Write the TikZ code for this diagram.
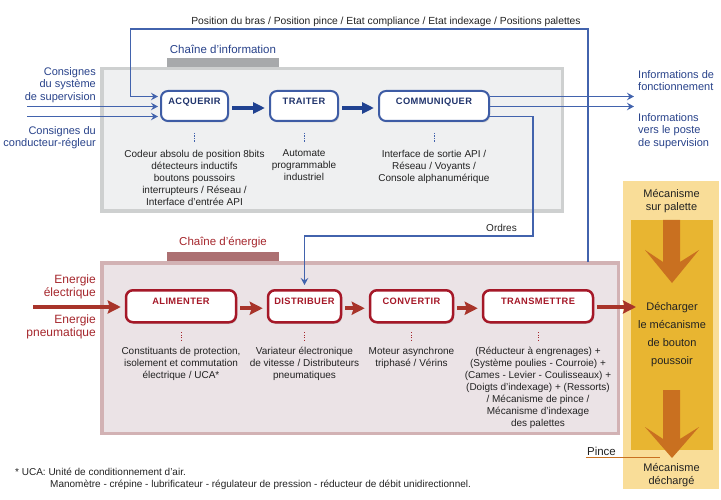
\documentclass[tikz,border=0pt]{standalone}
\usepackage{fontspec}
\setmainfont{Liberation Sans}
\newfontfamily\boxfont[LetterSpace=4]{Liberation Sans}
\usetikzlibrary{arrows.meta,shadows}
\definecolor{lnblue}{RGB}{66,99,173}
\definecolor{txblue}{RGB}{40,66,138}
\definecolor{bxblue}{RGB}{62,92,165}
\definecolor{lbblue}{RGB}{32,52,108}
\definecolor{arblue}{RGB}{32,66,145}
\definecolor{infofill}{RGB}{239,240,241}
\definecolor{infoedge}{RGB}{206,208,208}
\definecolor{infotab}{RGB}{167,169,171}
\definecolor{enfill}{RGB}{235,227,230}
\definecolor{enedge}{RGB}{210,178,180}
\definecolor{entab}{RGB}{172,112,114}
\definecolor{txred}{RGB}{165,38,44}
\definecolor{bxred}{RGB}{165,24,40}
\definecolor{arred}{RGB}{168,52,42}
\definecolor{colbg}{RGB}{249,221,152}
\definecolor{colin}{RGB}{232,181,49}
\definecolor{colar}{RGB}{201,112,32}
\definecolor{desc}{RGB}{34,34,34}
\tikzset{
  frame/.style={line width=3.5pt, inner sep=0pt},
  infobox/.style={draw=bxblue, line width=2pt, fill=white, rounded corners=7pt, anchor=north,
    inner xsep=2pt, inner ysep=3pt, text height=10.5pt, text depth=13.5pt,
    font=\boxfont\bfseries\fontsize{9.3}{10}\selectfont, text=lbblue,
    drop shadow={shadow xshift=1.2pt, shadow yshift=-1.5pt, opacity=0.3}},
  enbox/.style={draw=bxred, line width=2.5pt, fill=white, rounded corners=7pt, anchor=north,
    inner xsep=2pt, inner ysep=3pt, text height=11.5pt, text depth=14.5pt,
    font=\boxfont\bfseries\fontsize{9.3}{10}\selectfont, text=bxred,
    drop shadow={shadow xshift=1.2pt, shadow yshift=-1.5pt, opacity=0.3}},
  desctext/.style={anchor=north, inner sep=0pt, align=center, text=desc, font=\fontsize{10}{12}\selectfont},
  bluelbl/.style={inner sep=0pt, text=txblue, font=\fontsize{11}{12.7}\selectfont},
  redlbl/.style={inner sep=0pt, text=txred, font=\fontsize{12}{13}\selectfont},
  thinarrow/.style={draw=lnblue, line width=1.8pt, -{Stealth[length=7pt,width=7.5pt,inset=2.5pt]}},
  thinline/.style={draw=lnblue, line width=1.8pt},
  bigblue/.style={draw=arblue, line width=4pt, -{Triangle[length=12pt,width=11pt]}, shorten <=3pt, shorten >=4pt},
  bigred/.style={draw=arred, line width=4pt, -{Stealth[length=13pt,width=13pt,inset=2pt]}},
  bluedots/.style={draw=lnblue, line width=1pt, dash pattern=on 1.2pt off 1.3pt},
  reddots/.style={draw=txred, line width=1pt, dash pattern=on 1.2pt off 1.3pt},
  coltext/.style={anchor=north, inner sep=0pt, align=center, text=desc},
}
\begin{document}
\begin{tikzpicture}[x=1pt,y=-1pt]
\useasboundingbox (0,0) rectangle (721,500);
% ---------- frames ----------
\fill[infotab] (167,58) rectangle (279,67.5);
\fill[entab] (167,252) rectangle (279,261.5);
\node[frame, draw=infoedge, fill=infofill, minimum width=460.5pt, minimum height=142.5pt] (iframe) at (332,140) {};
\node[frame, draw=enedge, fill=enfill, minimum width=516.5pt, minimum height=170.5pt] (eframe) at (360,348) {};
\node[anchor=base, inner sep=0pt, text=txblue, font=\fontsize{11.5}{13}\selectfont] (ititle) at (223,54) {Chaîne d’information};
\node[anchor=base, inner sep=0pt, text=txred, font=\fontsize{11.5}{13}\selectfont] (etitle) at (223,245) {Chaîne d’énergie};
% ---------- right column ----------
\fill[colbg] (623,181) rectangle (719,489);
\fill[colin] (631,220) rectangle (713,450);
\fill[colar] (663,220) -- (680,220) -- (680,262) -- (699,250) -- (672,283) -- (645,250) -- (663,262) -- cycle;
\fill[colar] (663,390) -- (680,390) -- (680,439) -- (699,427) -- (672,458) -- (645,427) -- (663,439) -- cycle;
\node[coltext, font=\fontsize{11}{13}\selectfont] (mpal) at (671.5,189.5) {Mécanisme\\sur palette};
\node[coltext, font=\fontsize{11}{18}\selectfont] (dech) at (672,302.5) {Décharger\\le mécanisme\\de bouton\\poussoir};
\node[coltext, font=\fontsize{11}{13}\selectfont] (mdech) at (671.5,463.5) {Mécanisme\\déchargé};
% ---------- information chain boxes ----------
\node[infobox, minimum width=67pt] (acq) at (194.5,90) {ACQUERIR};
\node[infobox, minimum width=68pt] (tra) at (304,90) {TRAITER};
\node[infobox, minimum width=110pt] (com) at (434,90) {COMMUNIQUER};
\draw[bigblue] ([yshift=-2pt]acq.east) -- ([yshift=-2pt]tra.west);
\draw[bigblue] ([yshift=-2pt]tra.east) -- ([yshift=-2pt]com.west);
% descriptions
\node[desctext] (acqd) at (194.5,149.6) {Codeur absolu de position 8bits\\détecteurs inductifs\\boutons poussoirs\\interrupteurs / Réseau /\\Interface d’entrée API};
\node[desctext] (trad) at (304,149.6) {Automate\\programmable\\industriel};
\node[desctext] (comd) at (434,149.6) {Interface de sortie API /\\Réseau / Voyants /\\Console alphanumérique};
\draw[bluedots] ([yshift=-11pt]acq.south) -- ([yshift=7.5pt]acqd.north);
\draw[bluedots] ([yshift=-11pt]tra.south) -- ([yshift=7.5pt]trad.north);
\draw[bluedots] ([yshift=-11pt]com.south) -- ([yshift=7.5pt]comd.north);
% ---------- energy chain boxes ----------
\node[enbox, minimum width=110pt] (ali) at (181,289) {ALIMENTER};
\node[enbox, minimum width=73pt] (dis) at (304.5,289) {DISTRIBUER};
\node[enbox, minimum width=83pt] (con) at (411.5,289) {CONVERTIR};
\node[enbox, minimum width=110pt] (trm) at (538,289) {TRANSMETTRE};
\draw[bigred] ([xshift=3pt,yshift=-2pt]ali.east) -- ([xshift=-4pt,yshift=-2pt]dis.west);
\draw[bigred] ([xshift=3pt,yshift=-2pt]dis.east) -- ([xshift=-4pt,yshift=-2pt]con.west);
\draw[bigred] ([xshift=3pt,yshift=-2pt]con.east) -- ([xshift=-4pt,yshift=-2pt]trm.west);
\coordinate (ein) at (33,307);
\coordinate (eout) at (636,307);
\draw[bigred] (ein) -- ([xshift=-4pt]ali.west |- ein);
\draw[bigred] ([xshift=3pt]trm.east |- eout) -- (eout);
\node[desctext] (alid) at (181,346.6) {Constituants de protection,\\isolement et commutation\\électrique / UCA*};
\node[desctext] (disd) at (304.5,346.6) {Variateur électronique\\de vitesse / Distributeurs\\pneumatiques};
\node[desctext] (cond) at (411.5,346.6) {Moteur asynchrone\\triphasé / Vérins};
\node[desctext] (trmd) at (538,346.6) {(Réducteur à engrenages) +\\(Système poulies - Courroie) +\\(Cames - Levier - Coulisseaux) +\\(Doigts d'indexage) + (Ressorts)\\/ Mécanisme de pince /\\Mécanisme d'indexage\\des palettes};
\draw[reddots] ([yshift=-8.5pt]ali.south) -- ([yshift=5.5pt]alid.north);
\draw[reddots] ([yshift=-8.5pt]dis.south) -- ([yshift=5.5pt]disd.north);
\draw[reddots] ([yshift=-8.5pt]con.south) -- ([yshift=5.5pt]cond.north);
\draw[reddots] ([yshift=-8.5pt]trm.south) -- ([yshift=5.5pt]trmd.north);
% ---------- blue connectors ----------
\coordinate (in1) at (27,106.5);
\coordinate (in2) at (27,116.5);
\draw[thinarrow] (in1) -- ([xshift=-2pt]acq.west |- in1);
\draw[thinarrow] (in2) -- ([xshift=-2pt]acq.west |- in2);
\coordinate (fbtop) at (588,262);
\coordinate (fbcorner) at (130.5,29);
\coordinate (fbin) at (130.5,96.5);
\draw[thinline, -{Stealth[length=7pt,width=7.5pt,inset=2.5pt]}] (fbtop) |- (fbcorner) -- (fbin) -- ([xshift=-2pt]acq.west |- fbin);
\node[anchor=base, inner sep=0pt, text=desc, font=\fontsize{10.3}{12}\selectfont] (fbtext) at (386,25) {Position du bras / Position pince / Etat compliance / Etat indexage / Positions palettes};
\coordinate (out1) at (634,96.5);
\coordinate (out2) at (634,106.5);
\draw[thinarrow] (com.east |- out1) -- (out1);
\draw[thinarrow] (com.east |- out2) -- (out2);
\coordinate (ord1) at (533,116.5);
\coordinate (ord2) at (533,236);
\draw[thinline, -{Stealth[length=7pt,width=7.5pt,inset=2.5pt]}] ([xshift=-1pt]com.east |- ord1) -- (ord1) -- (ord2) -| ([yshift=4pt]dis.north);
\node[anchor=base east, inner sep=0pt, text=desc, font=\fontsize{10}{12}\selectfont] (ordres) at (517,232) {Ordres};
% ---------- labels ----------
\node[bluelbl, anchor=north east, align=right] (cons1) at (96,67) {Consignes\\du système\\de supervision};
\node[bluelbl, anchor=north east, align=right] (cons2) at (96,126) {Consignes du\\conducteur-régleur};
\node[bluelbl, anchor=north west, align=left] (inf1) at (638,70) {Informations de\\fonctionnement};
\node[bluelbl, anchor=north west, align=left] (inf2) at (638,113) {Informations\\vers le poste\\de supervision};
\node[redlbl, anchor=north east, align=right] (en1) at (96,274.5) {Energie\\électrique};
\node[redlbl, anchor=north east, align=right] (en2) at (96,314.5) {Energie\\pneumatique};
% ---------- pince ----------
\node[anchor=base, inner sep=0pt, text=desc, font=\fontsize{11.5}{13}\selectfont] (pince) at (601.5,455) {Pince};
\coordinate (pinceend) at (660,457.5);
\draw[colar, line width=1.3pt] (pince.base west |- pinceend) ++(-1,0) -- (pinceend);
% ---------- footnote ----------
\node[anchor=base west, inner sep=0pt, text=desc, font=\fontsize{10}{12}\selectfont] (fn1) at (15,475) {* UCA: Unité de conditionnement d’air.};
\node[anchor=base west, inner sep=0pt, text=desc, font=\fontsize{10}{12}\selectfont] (fn2) at (50,487) {Manomètre - crépine - lubrificateur - régulateur de pression - réducteur de débit unidirectionnel.};
\end{tikzpicture}
\end{document}
